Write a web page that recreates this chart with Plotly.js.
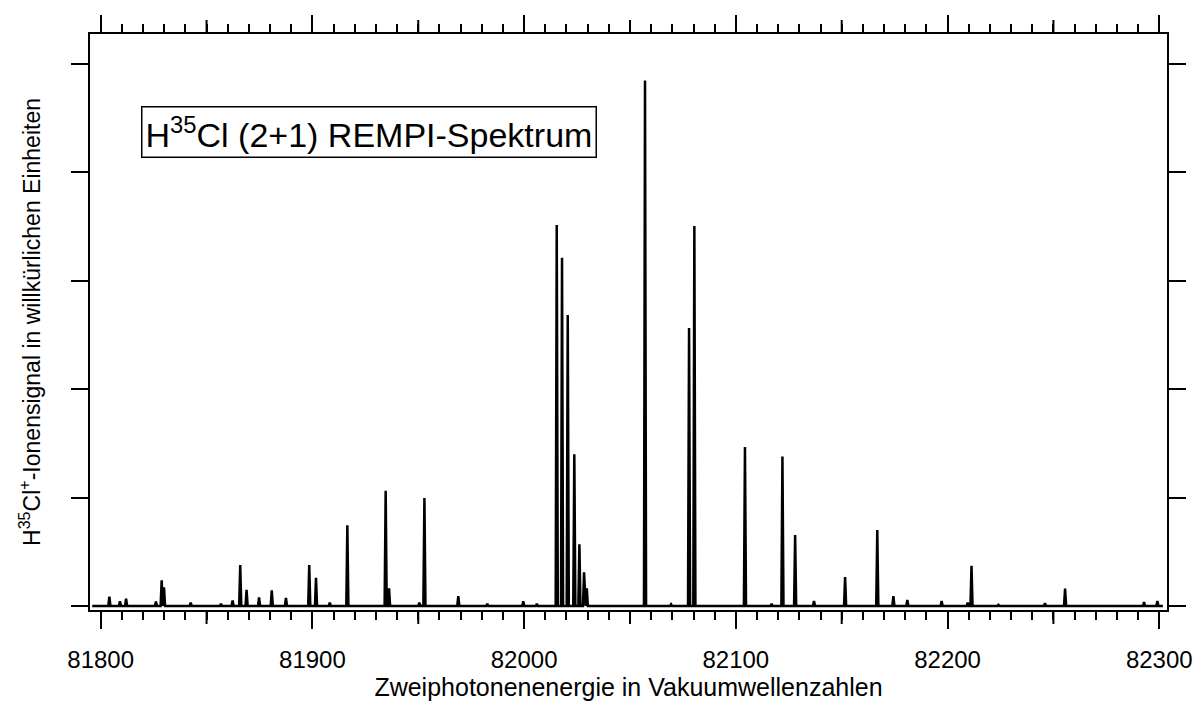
<!DOCTYPE html>
<html>
<head>
<meta charset="utf-8">
<script src="https://cdn.plot.ly/plotly-3.0.1.min.js"></script>
<style>
  html, body { margin: 0; padding: 0; background: #ffffff; }
  #chart { width: 1197px; height: 702px; }
</style>
</head>
<body>
<div id="chart"></div>
<script>
// Peak positions (two-photon energy, cm^-1)
const peakPositions = [
  81804.1, 81809.1, 81812.0, 81826.1, 81828.8, 81829.9, 81842.5, 81856.8,
  81862.3, 81865.9, 81868.9, 81874.8, 81880.8, 81887.5, 81898.5, 81901.7,
  81908.2, 81916.5, 81934.6, 81936.2, 81950.5, 81952.9, 81968.9, 81982.6,
  81999.6, 82006.0, 82015.4, 82017.9, 82020.6, 82023.7, 82026.1, 82028.3,
  82029.6, 82057.1, 82069.4, 82077.9, 82080.4, 82104.3, 82116.9, 82122.0,
  82128.0, 82136.9, 82151.6, 82166.8, 82174.4, 82181.0, 82197.2, 82209.5,
  82211.3, 82224.0, 82246.0, 82255.5, 82292.8, 82299.1
];
// Peak intensities (arbitrary units, one unit per y tick)
const peakHeights = [
  0.086, 0.043, 0.067, 0.040, 0.237, 0.172, 0.030, 0.020,
  0.050, 0.378, 0.150, 0.080, 0.145, 0.075, 0.378, 0.260,
  0.030, 0.744, 1.064, 0.163, 0.030, 0.996, 0.092, 0.020,
  0.043, 0.020, 3.514, 3.213, 2.685, 1.400, 0.569, 0.310,
  0.163, 4.848, 0.015, 2.565, 3.506, 1.467, 0.020, 1.379,
  0.655, 0.046, 0.268, 0.700, 0.092, 0.055, 0.046, 0.030,
  0.372, 0.010, 0.025, 0.160, 0.035, 0.046
];
// Start and end of the recorded scan
const scanStart = 81796.0;
const scanEnd = 82301.7;

const xTickLabels = ["81800", "81900", "82000", "82100", "82200", "82300"];
const xTickValues = [81800, 81900, 82000, 82100, 82200, 82300];
const xMediumTickValues = [81850, 81950, 82050, 82150, 82250];

const chartTitle = "H<sup>35</sup>Cl (2+1) REMPI-Spektrum";
const xTitle = "Zweiphotonenenergie in Vakuumwellenzahlen";
const yTitle = "H<sup>35</sup>Cl<sup>+</sup>-Ionensignal in willkürlichen Einheiten";

// Build the stick spectrum line from the peak table
const halfWidth = 0.5;
const specX = [scanStart];
const specY = [0];
peakPositions.forEach((p, i) => {
  specX.push(p - halfWidth, p, p + halfWidth);
  specY.push(0, peakHeights[i], 0);
});
specX.push(scanEnd);
specY.push(0);

const FONT = "Arial, 'Liberation Sans', Helvetica, sans-serif";
const xRange = [81794.95, 82303.64];
const yRange = [-0.037, 5.277];

const traces = [
  {
    x: specX, y: specY, type: "scatter", mode: "lines",
    line: { color: "#000000", width: 2.5, shape: "linear" },
    hoverinfo: "x+y", showlegend: false
  }
];

// Medium-length ticks at the half-hundreds, on bottom and top axes
const MEDIUM_LEN = 13;
const tickShapes = [];
xMediumTickValues.forEach(v => {
  tickShapes.push({
    type: "line", xref: "x", yref: "paper", ysizemode: "pixel", yanchor: 0,
    x0: v, x1: v, y0: -1, y1: -1 - MEDIUM_LEN,
    line: { color: "#000000", width: 2 }
  });
  tickShapes.push({
    type: "line", xref: "x", yref: "paper", ysizemode: "pixel", yanchor: 1,
    x0: v, x1: v, y0: 1, y1: 1 + MEDIUM_LEN,
    line: { color: "#000000", width: 2 }
  });
});

const layout = {
  width: 1197, height: 702,
  margin: { l: 90, r: 30, t: 34, b: 92 },
  paper_bgcolor: "#ffffff", plot_bgcolor: "#ffffff",
  font: { family: FONT, color: "#000000" },
  showlegend: false,
  xaxis: {
    range: xRange,
    showgrid: false, zeroline: false,
    showline: true, linecolor: "#000000", linewidth: 2,
    mirror: "allticks",
    ticks: "outside", ticklen: 17, tickwidth: 2, tickcolor: "#000000",
    tickvals: xTickValues, ticktext: xTickLabels,
    ticklabelstandoff: 10,
    tickfont: { family: FONT, size: 24, color: "#000000" },
    minor: { dtick: 10, tick0: 81800, ticks: "outside", ticklen: 8, tickwidth: 2, tickcolor: "#000000", showgrid: false },
    title: { text: xTitle, font: { family: FONT, size: 25, color: "#000000" }, standoff: 6 },
    automargin: false
  },
  yaxis: {
    range: yRange,
    showgrid: false, zeroline: false,
    showline: true, linecolor: "#000000", linewidth: 2,
    mirror: "allticks",
    ticks: "outside", ticklen: 17, tickwidth: 2, tickcolor: "#000000",
    dtick: 1, tick0: 0, showticklabels: false,
    title: { text: yTitle, font: { family: FONT, size: 23, color: "#000000" }, standoff: 24 },
    automargin: false
  },
  shapes: tickShapes,
  annotations: [
    {
      text: chartTitle, xref: "paper", yref: "paper",
      x: 0.259, y: 0.830, xanchor: "center", yanchor: "middle",
      showarrow: false,
      font: { family: FONT, size: 34, color: "#000000" },
      bordercolor: "#000000", borderwidth: 1.5, borderpad: 3,
      bgcolor: "#ffffff"
    }
  ]
};

Plotly.newPlot("chart", traces, layout, { displayModeBar: false, staticPlot: true });
</script>
</body>
</html>
